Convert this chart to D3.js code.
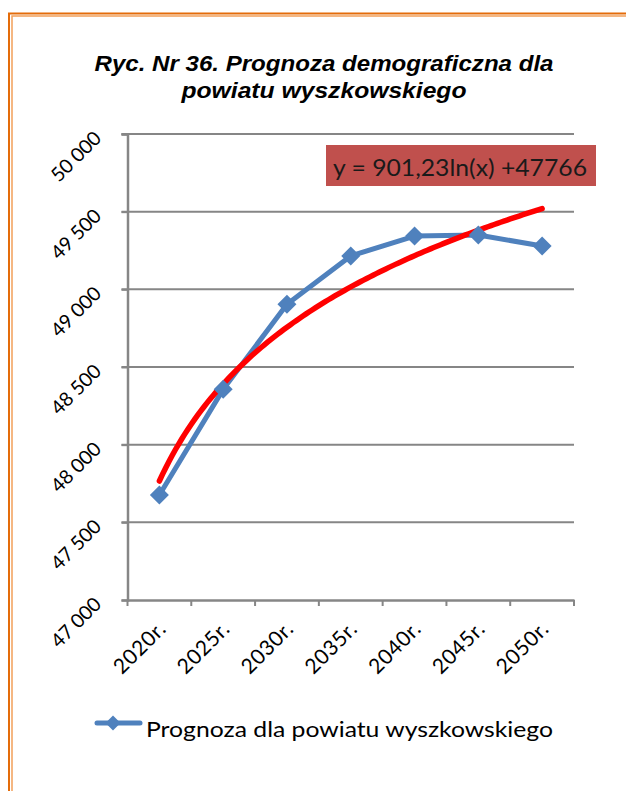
<!DOCTYPE html>
<html><head><meta charset="utf-8">
<script src="https://cdn.jsdelivr.net/npm/d3@7"></script>
<style>html,body{margin:0;padding:0;background:#fff;}svg{display:block;}</style>
</head><body>
<script>
const categories = ["2020r.","2025r.","2030r.","2035r.","2040r.","2045r.","2050r."];
const values = [47676, 48356, 48904, 49215, 49343, 49350, 49279];
const yTicks = [47000, 47500, 48000, 48500, 49000, 49500, 50000];
const trendA = 901.23, trendB = 47766;
const titleLines = ["Ryc. Nr 36. Prognoza demograficzna dla", "powiatu wyszkowskiego"];
const seriesName = "Prognoza dla powiatu wyszkowskiego";
const equation = "y = 901,23ln(x) +47766";

(function(){
const W = 626, H = 791;
const svg = d3.select("body").append("svg").attr("width", W).attr("height", H);
svg.append("rect").attr("width", W).attr("height", H).attr("fill", "#fff");

// border (double orange line, top and left)
svg.append("path").attr("d", `M9,${H} V13.5 H${W}`).attr("fill","none").attr("stroke","#E46C0A").attr("stroke-width",2);
svg.append("path").attr("d", `M12,${H} V16 H${W}`).attr("fill","none").attr("stroke","#F2A05A").attr("stroke-width",1.5);

// title
const title = svg.append("text").attr("text-anchor","middle")
  .attr("font-family","'Liberation Sans', Arial, sans-serif").attr("font-weight","bold").attr("font-style","italic")
  .attr("font-size",22).attr("fill","#000");
title.append("tspan").attr("x",324).attr("y",71).attr("textLength",459).attr("lengthAdjust","spacingAndGlyphs").text(titleLines[0]);
title.append("tspan").attr("x",324).attr("y",98).attr("textLength",285).attr("lengthAdjust","spacingAndGlyphs").text(titleLines[1]);

const pL = 127.5, pR = 574, pT = 134, pB = 600;
const x = d3.scaleBand().domain(categories).range([pL, pR]);
const y = d3.scaleLinear().domain([47000, 50000]).range([pB, pT]);
const fmt = d3.formatLocale({decimal:",", thousands:" ", grouping:[3], currency:["",""]}).format(",d");
const grey = "#868686";

// gridlines
svg.append("g").selectAll("line").data(yTicks.filter(d => d !== 47000)).join("line")
  .attr("x1", pL - 6).attr("x2", pR).attr("y1", d => y(d)).attr("y2", d => y(d))
  .attr("stroke", grey).attr("stroke-width", 2);

// y axis
const yAxis = svg.append("g").attr("transform", `translate(${pL},0)`)
  .call(d3.axisLeft(y).tickValues(yTicks).tickSize(6).tickFormat(fmt));
yAxis.select(".domain").attr("stroke", grey).attr("stroke-width", 2.5);
yAxis.selectAll(".tick line").attr("stroke", grey).attr("stroke-width", 2);
yAxis.selectAll(".tick text")
  .attr("font-family","Lato, 'Open Sans', sans-serif").attr("font-size",19.5).attr("fill","#000")
  .attr("text-anchor","end").attr("x",0).attr("dy",0)
  .attr("transform","translate(-25,5) rotate(-45)");

// x axis
const xAxis = svg.append("g").attr("transform", `translate(0,${pB})`)
  .call(d3.axisBottom(x).tickSize(0).tickFormat(d => d));
xAxis.select(".domain").attr("stroke", grey).attr("stroke-width", 2.5);
xAxis.selectAll(".tick text")
  .attr("font-family","Lato, 'Open Sans', sans-serif").attr("font-size",21).attr("letter-spacing",0.6).attr("fill","#000")
  .attr("text-anchor","end").attr("y",0).attr("dy",0)
  .attr("transform","translate(8,30) rotate(-45)");
// category boundary ticks
const bounds = categories.map(c => x(c)).concat([pR]);
svg.append("g").selectAll("line").data(bounds).join("line")
  .attr("x1", d => d).attr("x2", d => d).attr("y1", pB).attr("y2", pB + 6)
  .attr("stroke", grey).attr("stroke-width", 2);

const cx = c => x(c) + x.bandwidth() / 2;
const blue = "#4F81BD";

// series line
svg.append("path").datum(values)
  .attr("d", d3.line().x((d,i) => cx(categories[i])).y(d => y(d)))
  .attr("fill","none").attr("stroke", blue).attr("stroke-width", 5).attr("stroke-linejoin","round");

// trend line (logarithmic, from displayed equation)
const xi = d3.scaleLinear().domain([1, categories.length]).range([cx(categories[0]), cx(categories[categories.length-1])]);
const tPts = d3.range(1, categories.length + 0.001, 0.05).map(t => [xi(t), y(trendA * Math.log(t) + trendB)]);
svg.append("path").attr("d", d3.line()(tPts))
  .attr("fill","none").attr("stroke","#FF0000").attr("stroke-width",5.5).attr("stroke-linecap","round").attr("stroke-linejoin","round");

// markers
const diamond = (s) => `M0,${-s}L${s},0L0,${s}L${-s},0Z`;
svg.append("g").selectAll("path").data(values).join("path")
  .attr("transform", (d,i) => `translate(${cx(categories[i])},${y(d)})`)
  .attr("d", diamond(9.5)).attr("fill", blue);

// equation box
svg.append("rect").attr("x",326).attr("y",145).attr("width",270).attr("height",41).attr("fill","#C0504D");
svg.append("text").attr("x",333).attr("y",176).attr("font-family","Lato, 'Open Sans', sans-serif")
  .attr("font-size",23).attr("fill","#1a1a1a").attr("textLength",254).attr("lengthAdjust","spacingAndGlyphs").text(equation);

// legend
svg.append("line").attr("x1",97).attr("x2",140).attr("y1",723).attr("y2",723)
  .attr("stroke", blue).attr("stroke-width",5).attr("stroke-linecap","round");
svg.append("path").attr("transform","translate(113,723)").attr("d", diamond(7.5)).attr("fill", blue);
svg.append("text").attr("x",146).attr("y",737).attr("font-family","Lato, 'Open Sans', sans-serif")
  .attr("font-size",22).attr("fill","#000").attr("textLength",407).attr("lengthAdjust","spacingAndGlyphs").text(seriesName);
})();
</script>
</body></html>
